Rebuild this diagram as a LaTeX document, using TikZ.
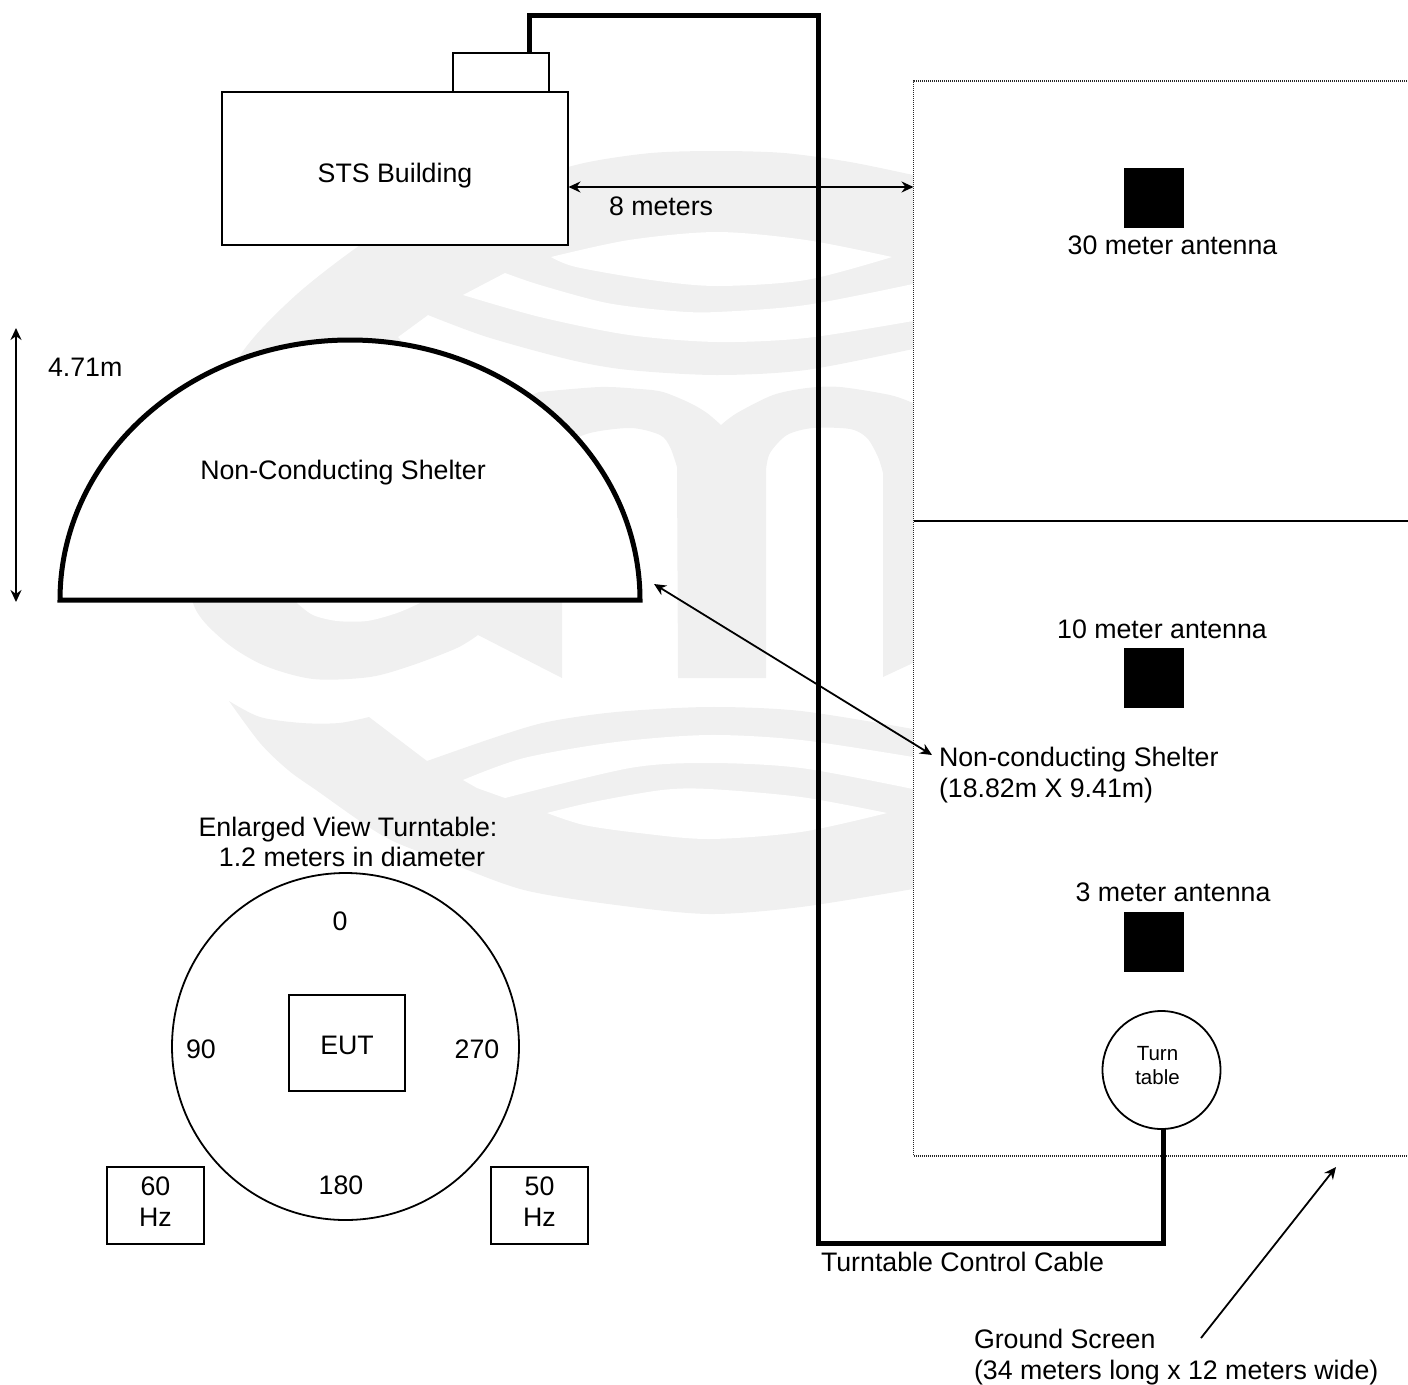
\documentclass[tikz,border=0pt]{standalone}
\usepackage{fontspec}
\setmainfont{Liberation Sans}
\usetikzlibrary{arrows.meta,calc}
\definecolor{wm}{HTML}{F0F0F0}
\tikzset{
  thinline/.style={line width=1.8pt,draw=black},
  boxed/.style={thinline,fill=white,inner sep=0pt,outer sep=0pt,rectangle},
  roundbox/.style={thinline,fill=white,inner sep=0pt,outer sep=0pt,circle},
  antenna/.style={fill=black,inner sep=0pt,outer sep=0pt,rectangle,minimum width=60pt,minimum height=60pt},
  cable/.style={line width=5pt,draw=black,line join=miter},
  dimarrow/.style={line width=1.8pt,{Stealth[length=12pt,width=11pt]}-{Stealth[length=12pt,width=11pt]}},
  onearrow/.style={line width=1.8pt,-{Stealth[length=12pt,width=11pt]}},
  lab/.style={inner sep=0pt,outer sep=0pt,font=\fontsize{26.75}{30.5}\selectfont,anchor=base},
  labw/.style={lab,anchor=base west},
  wmfill/.style={fill=wm,draw=none},
  wmhole/.style={fill=white,draw=none},
}
\begin{document}
\begin{tikzpicture}[x=1pt,y=-1pt]
\useasboundingbox (0,0) rectangle (1408,1384);
% --- watermark
\fill[wmfill] (913,175)
  -- plot[smooth,tension=0.5] coordinates {(913,175)(850,162)(784,153)(717,151)(651,153)(584,163)(518,182)(429,210)(372,237)(296,295)(239,357)(205,440)(190,530)(193,603)(223,640)(263,665)(313,679)(370,677)(413,665)(457,648)(478,635)}
  -- (562,678) -- (562,472)
  -- plot[smooth,tension=0.5] coordinates {(562,472)(568,445)(590,433)(631,428)(660,435)(670,447)(677,467)}
  -- (678,678) -- (766,678) -- (766,470)
  -- plot[smooth,tension=0.5] coordinates {(766,470)(770,453)(787,435)(813,428)(850,429)(867,438)(878,457)(883,473)}
  -- (883,677) -- (913,663) -- (913,403)
  -- plot[smooth,tension=0.5] coordinates {(913,403)(890,395)(840,387)(807,388)(773,395)(737,413)(721,425)}
  -- plot[smooth,tension=0.5] coordinates {(721,425)(707,413)(690,403)(663,392)(640,389)(600,387)(539,392)}
  -- (470,420) -- (398,337) -- (428,315)
  -- plot[smooth,tension=0.5] coordinates {(428,315)(487,337)(571,360)(629,370)(717,375)(806,370)(913,349)}
  -- cycle;
\fill[wmhole] plot[smooth,tension=0.5] coordinates {(551,257)(629,240)(717,232)(806,240)(892,257)} -- plot[smooth,tension=0.5] coordinates {(892,257)(806,280)(717,286)(651,280)(576,267)(551,257)} -- cycle;
\fill[wmhole] (463,295) -- (505,273) -- plot[smooth,tension=0.5] coordinates {(505,273)(540,285)(607,303)(673,311)(717,312)(806,305)(913,284)} -- (913,321) -- plot[smooth,tension=0.5] coordinates {(913,321)(806,338)(717,342)(629,335)(540,317)(463,295)} -- cycle;
\fill[wmhole] plot[smooth,tension=0.5] coordinates {(297,603)(313,615)(337,621)(367,621)(397,613)(420,603)} -- (420,590) -- (297,590) -- cycle;
% lower band
\fill[wmfill] (229,701)
  -- plot[smooth,tension=0.5] coordinates {(229,701)(260,717)(302,723)(339,723)(369,717)}
  -- (427,761)
  -- plot[smooth,tension=0.5] coordinates {(427,761)(496,737)(547,722)(616,712)(709,707)(801,711)(913,729)}
  -- (913,889)
  -- plot[smooth,tension=0.5] coordinates {(913,889)(801,907)(709,914)(616,905)(524,890)(450,863)(385,837)(316,790)(288,770)(260,743)(229,701)}
  -- cycle;
\fill[wmhole] (463,780) -- plot[smooth,tension=0.5] coordinates {(463,780)(524,758)(616,742)(709,735)(801,740)(913,757)} -- (913,789) -- plot[smooth,tension=0.5] coordinates {(913,789)(801,768)(709,763)(630,768)(505,798)} -- (477,788) -- cycle;
\fill[wmhole] plot[smooth,tension=0.5] coordinates {(547,813)(593,802)(662,790)(709,789)(801,797)(887,813)} -- plot[smooth,tension=0.5] coordinates {(887,813)(801,832)(709,839)(639,833)(584,825)(547,813)} -- cycle;
% --- ground screen
\node[fill=white,draw=black!85,line width=1.4pt,dash pattern=on 1pt off 1pt,inner sep=0pt,outer sep=0pt,minimum width=504pt,minimum height=1075pt] (screen) at (1165.5,618.5) {};
\coordinate (splitL) at (913.5,521);
\coordinate (splitR) at (1412,521);
\draw[thinline] (splitL) -- (splitR);
% --- building
\node[boxed,minimum width=346pt,minimum height=153pt] (building) at (395,168.5) {};
\node[boxed,minimum width=96pt,minimum height=39pt] (roof) at (501,72.5) {};
\node[lab] (buildinglab) at (395,182.5) {STS Building};
% --- antennas
\node[antenna] (a30) at (1154,198) {};
\node[antenna] (a10) at (1154,678) {};
\node[antenna] (a3) at (1154,941.5) {};
\node[lab] (l30) at (1172.5,254) {30 meter antenna};
\node[lab] (l10) at (1162,638) {10 meter antenna};
\node[lab] (l3) at (1173,901) {3 meter antenna};
% --- small turntable
\node[roundbox,minimum size=118pt] (tt) at (1161.5,1070) {};
\node[lab,font=\fontsize{20.5}{24}\selectfont,align=center,anchor=center] (ttlab) at (1157.5,1066) {Turn\\table};
% --- control cable
\coordinate (cabA) at (529,53);
\coordinate (cabB) at (529,15);
\coordinate (cabC) at (818,15);
\coordinate (cabD) at (818,1243);
\coordinate (cabE) at (1163.5,1243);
\draw[cable] (cabA) -- (cabB) -- (cabC) -- (cabD) -- (cabE) -- (tt.south -| cabE);
\node[labw] (cablab) at (821,1271) {Turntable Control Cable};
% --- 8 meters
\coordinate (dimA) at (568.5,187);
\coordinate (dimB) at (913.5,187);
\draw[dimarrow] (dimA) -- (dimB);
\node[labw] (dimlab) at (609,215.5) {8 meters};
% --- shelter
\coordinate (shL) at (60,600);
\coordinate (shR) at (640,600);
\draw[line width=5pt,fill=white,line join=miter] (shL) arc[start angle=180,end angle=0,x radius=290,y radius=-260] -- cycle;
\node[lab] (shlab) at (343,479) {Non-Conducting Shelter};
% --- 4.71 m
\coordinate (hA) at (16,328);
\coordinate (hB) at (16,602);
\draw[dimarrow] (hA) -- (hB);
\node[labw] (hlab) at (48,376) {4.71m};
% --- shelter pointer
\coordinate (ptA) at (654,584);
\coordinate (ptB) at (932,755);
\draw[dimarrow] (ptA) -- (ptB);
\node[lab,align=left,anchor=west] (ptlab) at (939,775) {Non-conducting Shelter\\(18.82m X 9.41m)};
% --- enlarged view
\node[lab,align=center,anchor=center] (enlab) at (348,842) {Enlarged View Turntable:\\\hspace*{8pt}1.2 meters in diameter};
\node[roundbox,minimum size=347pt] (table) at (345.5,1046.5) {};
\node[boxed,minimum width=116pt,minimum height=96pt] (eut) at (347,1043) {};
\node[lab] (euttext) at (347,1054) {EUT};
\node[lab] (d0) at (340,930) {0};
\node[lab] (d90) at (201,1058) {90};
\node[lab] (d270) at (477,1058) {270};
\node[lab] (d180) at (341,1194) {180};
\node[boxed,minimum width=97pt,minimum height=77pt] (hz60) at (155.5,1205.5) {};
\node[boxed,minimum width=97pt,minimum height=77pt] (hz50) at (539.5,1205.5) {};
\node[lab,align=center,anchor=center] (hz60t) at (155.5,1201.5) {60\\Hz};
\node[lab,align=center,anchor=center] (hz50t) at (539.5,1201.5) {50\\Hz};
% --- ground screen pointer
\coordinate (gsA) at (1201,1338);
\coordinate (gsB) at (1336,1167);
\draw[onearrow] (gsA) -- (gsB);
\node[lab,align=left,anchor=west] (gslab) at (974,1357) {Ground Screen\\(34 meters long x 12 meters wide)};
\end{tikzpicture}
\end{document}
